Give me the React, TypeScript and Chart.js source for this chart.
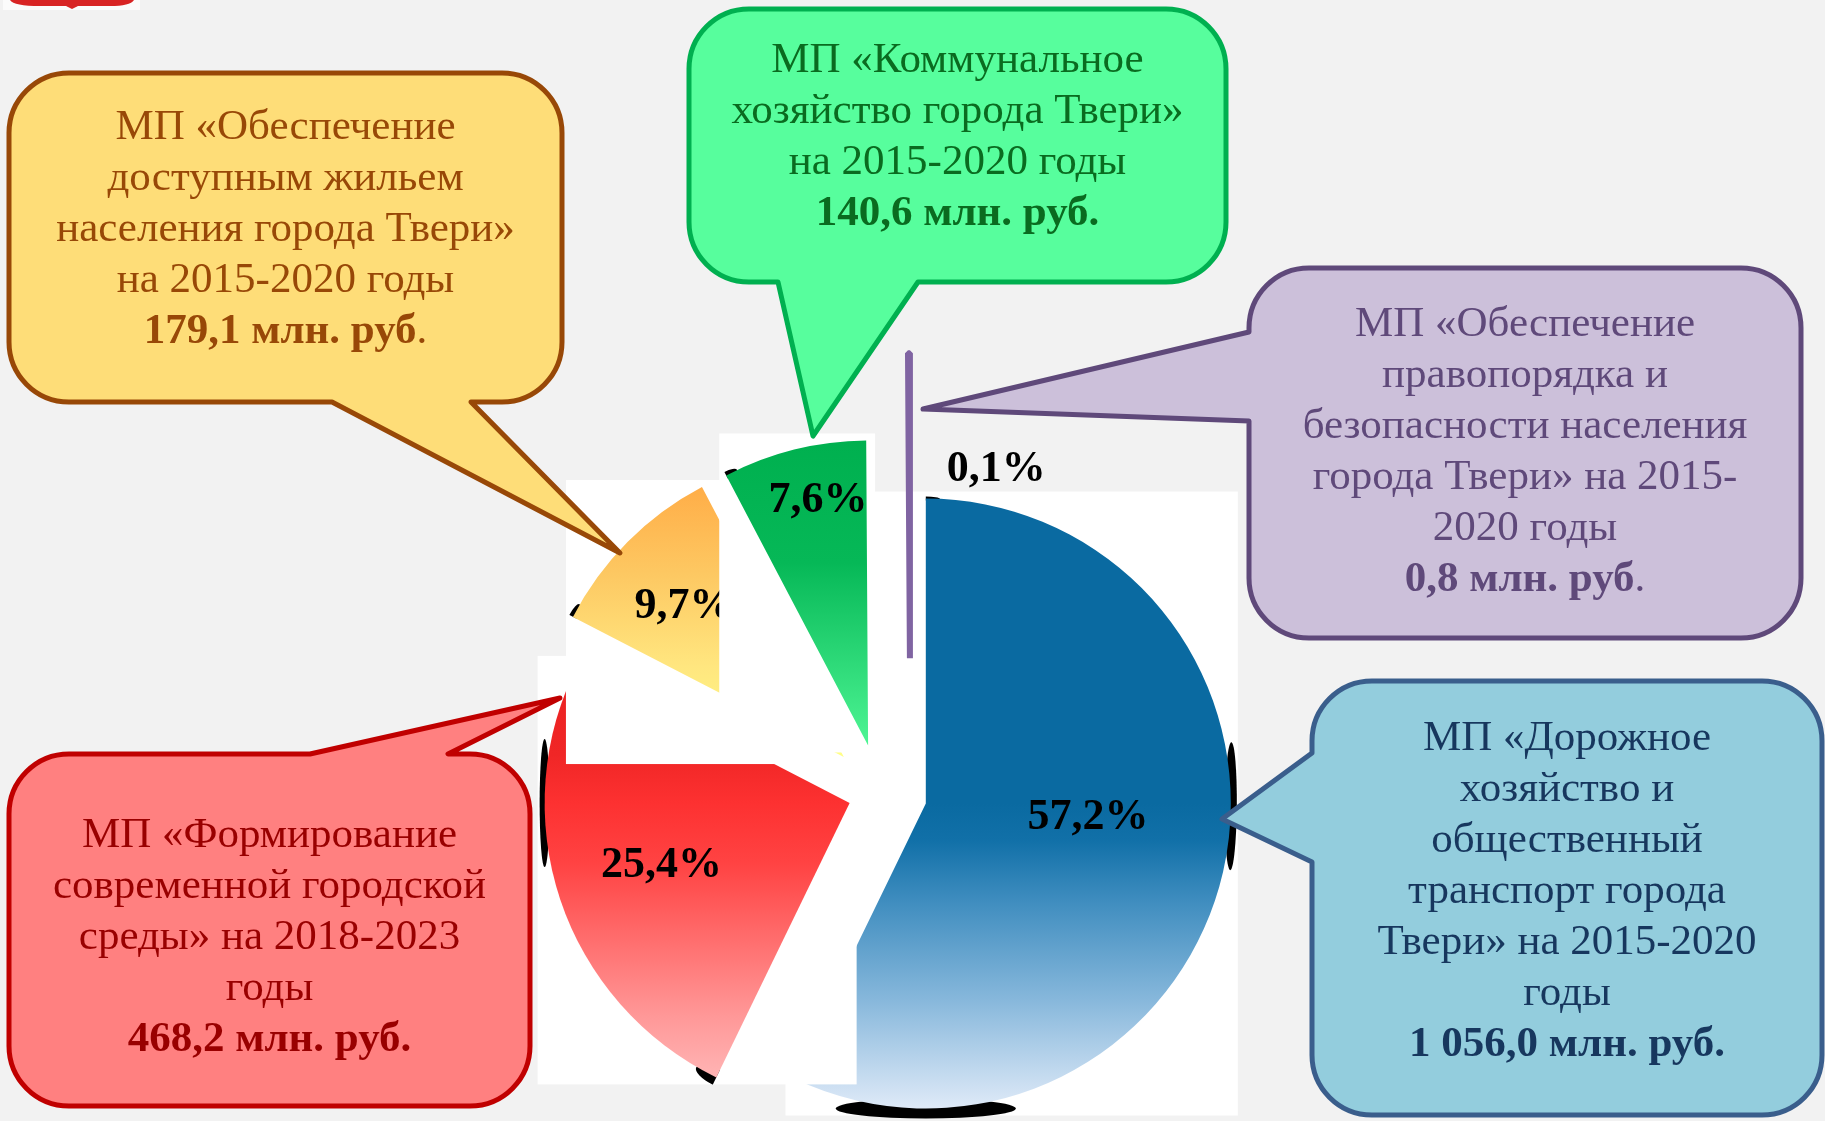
import React, { useEffect, useRef } from 'react';
import { Chart, registerables } from 'chart.js';

Chart.register(...registerables);

// ---------------- data ----------------
const programNames = [
  'Дорожное хозяйство и общественный транспорт города Твери',
  'Формирование современной городской среды',
  'Обеспечение доступным жильем населения города Твери',
  'Коммунальное хозяйство города Твери',
  'Обеспечение правопорядка и безопасности населения города Твери',
];
const sharePercent = [57.2, 25.4, 9.7, 7.6, 0.1];
const amountMln = [1056.0, 468.2, 179.1, 140.6, 0.8];
const calloutText = [
  ['МП «Дорожное', 'хозяйство и', 'общественный', 'транспорт города', 'Твери» на 2015-2020', 'годы'],
  ['МП «Формирование', 'современной городской', 'среды» на 2018-2023', 'годы'],
  ['МП «Обеспечение', 'доступным жильем', 'населения города Твери»', 'на 2015-2020 годы'],
  ['МП «Коммунальное', 'хозяйство города Твери»', 'на 2015-2020 годы'],
  ['МП «Обеспечение', 'правопорядка и', 'безопасности населения', 'города Твери» на 2015-', '2020 годы'],
];
const amountUnit = 'млн. руб';
const plainDot = [false, false, true, false, true];

// ---------------- style ----------------
const W = 1825;
const H = 1121;
const FONT = '"Liberation Serif", "Times New Roman", "DejaVu Serif", serif';
const PIE_RADIUS = 305;
const DEG = Math.PI / 180;
const explodeDist = [47, 32, 51, 49, 138];
const explodeTilt = [0, 0, 0, 0, 12.7];
const labelFrac = [0.534, 0.65, 0.72, 0.82, 0.68];
const labelTilt = [-8.1, 0, -1.5, 2.5, 24.8];
const backdrop = [true, true, true, true, false];
const backdropPad = 7;
// rim shadow lenses: [canvas angle deg, half length px, thickness px]
const shadowLenses = [
  [[0.5, 64, 6], [90, 90, 10], [-90, 14, 2]],
  [[180, 64, 5], [116, 22, 8]],
  [[207.4, 14, 4]],
  [[242.3, 12, 4]],
  [],
];
const sliceStops: any[] = [
  [[0, '#0a6aa1'], [0.5, '#0a6aa1'], [0.56, '#1170a8'], [0.66, '#3f8dbf'], [0.82, '#86b7db'], [1, '#dfeaf8']],
  [[0, '#e01a1a'], [0.42, '#f02626'], [0.5, '#fd3131'], [0.6, '#ff4343'], [0.72, '#ff6c6c'], [0.85, '#ff9898'], [0.95, '#ffb4b4'], [1, '#ffbcbc']],
  [[0, '#ffa640'], [0.06, '#ffae48'], [0.2, '#fdc862'], [0.35, '#ffe67f'], [0.5, '#ffff86'], [1, '#ffff90']],
  [[0, '#00b04f'], [0.2, '#06b857'], [0.5, '#4ef594'], [1, '#4ef594']],
  [[0, '#8064a2'], [1, '#8064a2']],
];
const sliceBorderWidth = [0, 0, 0, 0, 6];

const callouts: any[] = [
  { box: [1312, 681, 510, 434], side: 'left', base: [753, 862], tip: [1222, 819], fill: '#93cddd', stroke: '#3a5e8c', text: '#17375e', lineY: 739 },
  { box: [9, 754, 521, 352], side: 'top', base: [310, 448], tip: [560, 698], fill: '#ff8080', stroke: '#c00000', text: '#990000', lineY: 836 },
  { box: [9, 73, 553, 329], side: 'bottom', base: [332, 471], tip: [620, 553], fill: '#fedd78', stroke: '#984807', text: '#984807', lineY: 128 },
  { box: [689, 9, 537, 273], side: 'bottom', base: [778, 918], tip: [813, 436], fill: '#57fe9d', stroke: '#00b050', text: '#0a6b20', lineY: 61 },
  { box: [1249, 268, 552, 370], side: 'left', base: [332, 421], tip: [923, 409], fill: '#ccc0da', stroke: '#5f497a', text: '#5f497a', lineY: 325 },
];
const CALLOUT_RADIUS = 60;
const LINE_H = 51;
const TEXT_PX = 43;

// ---------------- helpers ----------------
function fmtAmount(v: number) {
  const [i, d] = v.toFixed(1).split('.');
  return i.replace(/\B(?=(\d{3})+(?!\d))/g, ' ') + ',' + d;
}
function fmtPct(v: number) {
  return v.toFixed(1).replace('.', ',') + '%';
}

function sliceFill(c: any) {
  const i = c.dataIndex ?? 0;
  const chart = c.chart;
  const area = chart.chartArea;
  const stops = sliceStops[i];
  if (!area) return stops[0][1];
  const cy = (area.top + area.bottom) / 2;
  const g = chart.ctx.createLinearGradient(0, cy - PIE_RADIUS, 0, cy + PIE_RADIUS);
  stops.forEach(([t, col]: any) => g.addColorStop(t, col));
  return g;
}

function calloutPath(ctx: CanvasRenderingContext2D, s: any) {
  const [x, y, w, h] = s.box;
  const r = CALLOUT_RADIUS;
  const [b1, b2] = s.base;
  const [tx, ty] = s.tip;
  ctx.beginPath();
  ctx.moveTo(x + r, y);
  if (s.side === 'top') { ctx.lineTo(b1, y); ctx.lineTo(tx, ty); ctx.lineTo(b2, y); }
  ctx.lineTo(x + w - r, y);
  ctx.arcTo(x + w, y, x + w, y + r, r);
  ctx.lineTo(x + w, y + h - r);
  ctx.arcTo(x + w, y + h, x + w - r, y + h, r);
  if (s.side === 'bottom') { ctx.lineTo(b2, y + h); ctx.lineTo(tx, ty); ctx.lineTo(b1, y + h); }
  ctx.lineTo(x + r, y + h);
  ctx.arcTo(x, y + h, x, y + h - r, r);
  if (s.side === 'left') { ctx.lineTo(x, b2); ctx.lineTo(tx, ty); ctx.lineTo(x, b1); }
  ctx.lineTo(x, y + r);
  ctx.arcTo(x, y, x + r, y, r);
  ctx.closePath();
}

function drawCallout(ctx: CanvasRenderingContext2D, i: number) {
  const s = callouts[i];
  ctx.save();
  calloutPath(ctx, s);
  ctx.fillStyle = s.fill;
  ctx.fill();
  ctx.lineWidth = 5;
  ctx.lineJoin = 'round';
  ctx.strokeStyle = s.stroke;
  ctx.stroke();
  const cx = s.box[0] + s.box[2] / 2;
  ctx.fillStyle = s.text;
  ctx.textAlign = 'center';
  ctx.textBaseline = 'middle';
  ctx.font = `${TEXT_PX}px ${FONT}`;
  const lines = calloutText[i];
  lines.forEach((ln: string, k: number) => ctx.fillText(ln, cx, s.lineY + k * LINE_H));
  const yLast = s.lineY + lines.length * LINE_H;
  const boldPart = fmtAmount(amountMln[i]) + ' ' + amountUnit + (plainDot[i] ? '' : '.');
  const tail = plainDot[i] ? '.' : '';
  ctx.font = `bold ${TEXT_PX}px ${FONT}`;
  const wb = ctx.measureText(boldPart).width;
  ctx.font = `${TEXT_PX}px ${FONT}`;
  const wt = ctx.measureText(tail).width;
  const x0 = cx - (wb + wt) / 2;
  ctx.textAlign = 'left';
  ctx.font = `bold ${TEXT_PX}px ${FONT}`;
  ctx.fillText(boldPart, x0, yLast);
  if (tail) {
    ctx.font = `${TEXT_PX}px ${FONT}`;
    ctx.fillText(tail, x0 + wb, yLast);
  }
  ctx.restore();
}

const backgroundPlugin = {
  id: 'pageBackground',
  beforeDraw(chart: any) {
    const ctx = chart.ctx;
    ctx.save();
    ctx.fillStyle = '#f2f2f2';
    ctx.fillRect(0, 0, chart.width, chart.height);
    // small emblem fragment at the top-left corner
    ctx.fillStyle = '#fbfbfb';
    ctx.fillRect(3, 0, 137, 10);
    ctx.fillStyle = '#d82424';
    ctx.beginPath();
    ctx.moveTo(10, 0);
    ctx.quadraticCurveTo(14, 6, 40, 6);
    ctx.lineTo(66, 6);
    ctx.lineTo(72, 9);
    ctx.lineTo(78, 6);
    ctx.lineTo(110, 6);
    ctx.quadraticCurveTo(130, 6, 134, 0);
    ctx.closePath();
    ctx.fill();
    ctx.restore();
  },
};

const pieLayersPlugin = {
  id: 'pieLayers',
  beforeDatasetsDraw(chart: any) {
    const ctx: CanvasRenderingContext2D = chart.ctx;
    const meta = chart.getDatasetMeta(0);
    meta.data.forEach((el: any, i: number) => {
      const { x, y, startAngle, endAngle, outerRadius } = el.getProps(['x', 'y', 'startAngle', 'endAngle', 'outerRadius'], true);
      const mid = (startAngle + endAngle) / 2;
      const eDir = mid + explodeTilt[i] * DEG;
      const sx = Math.cos(eDir) * explodeDist[i];
      const sy = Math.sin(eDir) * explodeDist[i];
      const vx = x + sx;
      const vy = y + sy;
      const r = outerRadius;

      // white picture backdrop around the slice
      if (backdrop[i]) {
        const pts: number[][] = [[vx, vy]];
        [startAngle, endAngle].forEach((a: number) => pts.push([vx + r * Math.cos(a), vy + r * Math.sin(a)]));
        for (let k = -2; k <= 5; k++) {
          const a = (k * Math.PI) / 2;
          if (a > startAngle && a < endAngle) pts.push([vx + r * Math.cos(a), vy + r * Math.sin(a)]);
        }
        const xs = pts.map((p) => p[0]);
        const ys = pts.map((p) => p[1]);
        const x0 = Math.min(...xs) - backdropPad;
        const y0 = Math.min(...ys) - backdropPad;
        const x1 = Math.max(...xs) + backdropPad;
        const y1 = Math.max(...ys) + backdropPad;
        ctx.save();
        ctx.fillStyle = '#ffffff';
        ctx.fillRect(x0, y0, x1 - x0, y1 - y0);
        ctx.restore();
      }

      // dark rim shadow lenses at the extreme points of the slice
      if (shadowLenses[i].length) {
        ctx.save();
        ctx.beginPath();
        ctx.moveTo(vx, vy);
        ctx.arc(vx, vy, r * 1.2, startAngle, endAngle);
        ctx.closePath();
        ctx.clip();
        ctx.fillStyle = '#000000';
        shadowLenses[i].forEach(([adeg, half, thick]: number[]) => {
          const a = adeg * DEG;
          ctx.beginPath();
          ctx.ellipse(vx + Math.cos(a) * r, vy + Math.sin(a) * r, thick, half, a, 0, Math.PI * 2);
          ctx.fill();
        });
        ctx.restore();
      }

      // the slice itself
      ctx.save();
      ctx.translate(sx, sy);
      el.draw(ctx);
      ctx.restore();

      // percentage label
      const la = mid + labelTilt[i] * DEG;
      const lr = r * labelFrac[i];
      ctx.save();
      ctx.fillStyle = '#000000';
      ctx.font = `bold 44px ${FONT}`;
      ctx.textAlign = 'center';
      ctx.textBaseline = 'middle';
      ctx.fillText(fmtPct(sharePercent[i]), vx + Math.cos(la) * lr, vy + Math.sin(la) * lr);
      ctx.restore();
    });
    return false;
  },
};

const calloutPlugin = {
  id: 'callouts',
  afterDraw(chart: any) {
    const ctx = chart.ctx;
    callouts.forEach((_: any, i: number) => drawCallout(ctx, i));
  },
};

export default function App() {
  const ref = useRef<HTMLCanvasElement>(null);
  useEffect(() => {
    const canvas = ref.current;
    if (!canvas) return;
    const chart = new Chart(canvas, {
      type: 'pie',
      data: {
        labels: programNames,
        datasets: [
          {
            data: sharePercent,
            backgroundColor: sliceFill as any,
            borderWidth: sliceBorderWidth,
            borderColor: '#8064a2',
            radius: PIE_RADIUS,
          } as any,
        ],
      },
      options: {
        responsive: false,
        maintainAspectRatio: false,
        animation: false,
        events: [],
        layout: { padding: { left: 0, right: 65, top: 465, bottom: 0 } },
        plugins: {
          legend: { display: false },
          tooltip: { enabled: false },
        },
      } as any,
      plugins: [backgroundPlugin, pieLayersPlugin, calloutPlugin] as any,
    });
    return () => chart.destroy();
  }, []);
  return (
    <div style={{ position: 'absolute', left: 0, top: 0, width: W, height: H, background: '#f2f2f2', overflow: 'hidden' }}>
      <canvas ref={ref} width={W} height={H} style={{ display: 'block', width: W, height: H }} />
    </div>
  );
}
